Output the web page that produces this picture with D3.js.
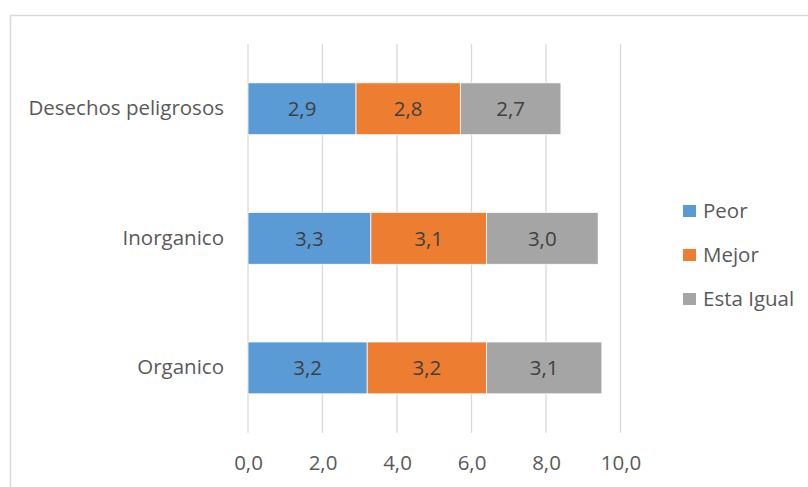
<!DOCTYPE html>
<html>
<head>
<meta charset="utf-8">
<script src="https://cdn.jsdelivr.net/npm/d3@7"></script>
<style>
  html, body { margin: 0; padding: 0; background: #ffffff; }
  svg { display: block; font-family: "Open Sans", "Noto Sans", sans-serif; }
</style>
</head>
<body>
<svg id="chart" width="808" height="487"></svg>
<script>
// Categories, top to bottom
const categories = ["Desechos peligrosos", "Inorganico", "Organico"];
// Series names and values per category
const seriesNames = ["Peor", "Mejor", "Esta Igual"];
const peor = [2.9, 3.3, 3.2];
const mejor = [2.8, 3.1, 3.2];
const estaIgual = [2.7, 3.0, 3.1];
const seriesColors = ["#5B9BD5", "#ED7D31", "#A5A5A5"];
const xTicks = [0, 2, 4, 6, 8, 10];

const rows = categories.map((c, i) => ({
  category: c,
  "Peor": peor[i],
  "Mejor": mejor[i],
  "Esta Igual": estaIgual[i]
}));

const svg = d3.select("#chart");
const W = 808, H = 487;
const FS = 20.5;

// chart frame
svg.append("rect")
  .attr("x", 10.5).attr("y", 15.5)
  .attr("width", W).attr("height", H)
  .attr("fill", "none")
  .attr("stroke", "#d9d9d9")
  .attr("stroke-width", 1.5);

const x = d3.scaleLinear().domain([0, 10]).range([248, 620.5]);
const y = d3.scaleBand().domain(categories).range([44, 432.7])
  .paddingInner(0.6).paddingOuter(0.3);

// vertical gridlines
svg.append("g")
  .selectAll("line")
  .data(xTicks)
  .join("line")
  .attr("x1", d => x(d)).attr("x2", d => x(d))
  .attr("y1", 44).attr("y2", 432.7)
  .attr("stroke", "#d9d9d9")
  .attr("stroke-width", 1.3);

// x axis labels
const fmt = v => d3.format(".1f")(v).replace(".", ",");
const xAxis = d3.axisBottom(x).tickValues(xTicks).tickFormat(fmt).tickSize(0).tickPadding(0);
const gx = svg.append("g").attr("transform", "translate(0,456)").call(xAxis);
gx.select(".domain").remove();
gx.selectAll("text")
  .attr("fill", "#595959")
  .attr("font-size", FS)
  .attr("font-family", "\"Open Sans\", sans-serif")
  .attr("dy", "0.35em")
  .attr("y", 7);

// y axis labels
const yAxis = d3.axisLeft(y).tickSize(0).tickPadding(0);
const gy = svg.append("g").attr("transform", "translate(224,0)").call(yAxis);
gy.select(".domain").remove();
gy.selectAll("text")
  .attr("fill", "#595959")
  .attr("font-size", FS)
  .attr("font-family", "\"Open Sans\", sans-serif");

// stacked bars
const stack = d3.stack().keys(seriesNames);
const stacked = stack(rows);
const color = d3.scaleOrdinal().domain(seriesNames).range(seriesColors);

const layers = svg.append("g")
  .selectAll("g")
  .data(stacked)
  .join("g")
  .attr("fill", d => color(d.key));

layers.selectAll("rect")
  .data(d => d)
  .join("rect")
  .attr("x", d => x(d[0]))
  .attr("y", d => y(d.data.category))
  .attr("width", d => x(d[1]) - x(d[0]))
  .attr("height", y.bandwidth())
  .attr("stroke", "#ffffff")
  .attr("stroke-width", 0.75);

// data labels
layers.selectAll("text")
  .data(d => d)
  .join("text")
  .attr("x", d => (x(d[0]) + x(d[1])) / 2)
  .attr("y", d => y(d.data.category) + y.bandwidth() / 2)
  .attr("text-anchor", "middle")
  .attr("dy", "0.35em")
  .attr("fill", "#404040")
  .attr("font-size", FS)
  .text(d => fmt(d[1] - d[0]));

// legend
const legend = svg.append("g").attr("transform", "translate(683,211)");
const li = legend.selectAll("g")
  .data(seriesNames)
  .join("g")
  .attr("transform", (d, i) => `translate(0,${i * 44})`);
li.append("rect")
  .attr("x", 0).attr("y", -6)
  .attr("width", 13).attr("height", 12)
  .attr("fill", d => color(d));
li.append("text")
  .attr("x", 20).attr("y", 0)
  .attr("dy", "0.35em")
  .attr("fill", "#595959")
  .attr("font-size", FS)
  .text(d => d);
</script>
</body>
</html>
